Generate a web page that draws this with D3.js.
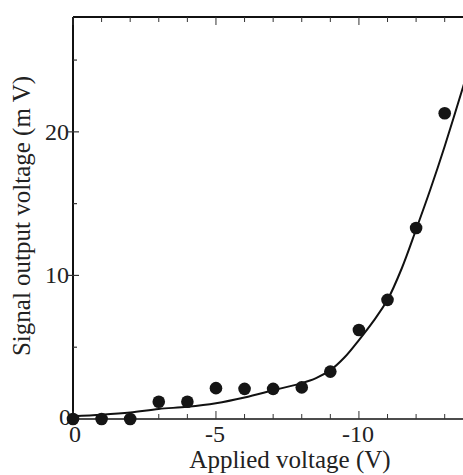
<!DOCTYPE html>
<html>
<head>
<meta charset="utf-8">
<script src="https://cdn.jsdelivr.net/npm/d3@7"></script>
<style>
  body { margin: 0; background: #fff; }
  text { font-family: "Liberation Serif", "DejaVu Serif", serif; fill: #222; }
</style>
</head>
<body>
<div id="chart"></div>
<script>
// measured points
var voltage = [0, -1, -2, -3, -4, -5, -6, -7, -8, -9, -10, -11, -12, -13];
var signal  = [0, 0, 0, 1.2, 1.2, 2.15, 2.1, 2.1, 2.2, 3.3, 6.2, 8.3, 13.3, 21.3];

// fitted curve
var fitX = [0, -1, -2, -3, -4, -5, -6, -7, -8, -8.5, -9, -9.5, -10, -10.5, -11, -11.5, -12, -12.5, -13, -13.7];
var fitY = [0.2, 0.3, 0.45, 0.7, 0.85, 1.1, 1.5, 2.0, 2.5, 2.85, 3.4, 4.3, 5.5, 6.8, 8.3, 10.5, 13.2, 16.0, 19.0, 23.5];

var xMajor = [0, -5, -10];
var yMajor = [0, 10, 20];

var W = 463, H = 475;
var margin = {top: 17, left: 73};

var svg = d3.select("#chart").append("svg")
    .attr("width", W)
    .attr("height", H);

var x = d3.scaleLinear().domain([0, -13.64]).range([margin.left, W]);
var y = d3.scaleLinear().domain([0, 28]).range([419, margin.top]);

var g = svg.append("g");

// frame lines
g.append("line").attr("x1", x(0)).attr("x2", W + 5).attr("y1", y(0)).attr("y2", y(0))
  .attr("stroke", "#111").attr("stroke-width", 1.6);
g.append("line").attr("x1", x(0)).attr("x2", W + 5).attr("y1", y(28)).attr("y2", y(28))
  .attr("stroke", "#111").attr("stroke-width", 2);
g.append("line").attr("x1", x(0)).attr("x2", x(0)).attr("y1", y(28)).attr("y2", y(0) + 1)
  .attr("stroke", "#111").attr("stroke-width", 2);

// x ticks, bottom and top, pointing inward
var xt = d3.range(0, -14, -1);
g.selectAll(".xtb").data(xt).enter().append("line")
  .attr("x1", function(d) { return x(d); }).attr("x2", function(d) { return x(d); })
  .attr("y1", y(0))
  .attr("y2", function(d) { return y(0) - (d % 5 === 0 ? 8 : 5); })
  .attr("stroke", "#333").attr("stroke-width", 1);
g.selectAll(".xtt").data(xt).enter().append("line")
  .attr("x1", function(d) { return x(d); }).attr("x2", function(d) { return x(d); })
  .attr("y1", y(28))
  .attr("y2", function(d) { return y(28) + (d % 5 === 0 ? 8 : 5); })
  .attr("stroke", "#333").attr("stroke-width", 1);

// y ticks
var yt = [5, 10, 15, 20, 25];
g.selectAll(".yt").data(yt).enter().append("line")
  .attr("x1", function(d) { return d % 10 === 0 ? x(0) - 5 : x(0); })
  .attr("x2", function(d) { return d % 10 === 0 ? x(0) + 6 : x(0) + 4; })
  .attr("y1", function(d) { return y(d); }).attr("y2", function(d) { return y(d); })
  .attr("stroke", "#333").attr("stroke-width", 1.2);

// tick labels
g.selectAll(".xl").data(xMajor).enter().append("text")
  .attr("x", function(d) { return x(d) + (d === 0 ? 2 : -1); })
  .attr("y", 442)
  .attr("text-anchor", "middle")
  .style("font-size", "24px")
  .text(function(d) { return d; });

g.selectAll(".yl").data(yMajor).enter().append("text")
  .attr("x", function(d) { return d === 0 ? 71 : 69; })
  .attr("y", function(d) { return d === 0 ? 425 : y(d) + 8; })
  .attr("text-anchor", "end")
  .style("font-size", "24px")
  .text(function(d) { return d; });

// axis titles
svg.append("text")
  .attr("x", 290).attr("y", 468)
  .attr("text-anchor", "middle")
  .style("font-size", "25px")
  .text("Applied voltage (V)");

svg.append("text")
  .attr("transform", "translate(30,216) rotate(-90)")
  .attr("text-anchor", "middle")
  .style("font-size", "25px")
  .text("Signal output voltage (m V)");

// fitted line
var fit = fitX.map(function(v, i) { return [v, fitY[i]]; });
var line = d3.line()
  .x(function(d) { return x(d[0]); })
  .y(function(d) { return y(d[1]); })
  .curve(d3.curveCatmullRom);
g.append("path").datum(fit)
  .attr("d", line)
  .attr("fill", "none")
  .attr("stroke", "#111")
  .attr("stroke-width", 2);

// points
g.selectAll(".pt").data(voltage).enter().append("circle")
  .attr("cx", function(d) { return x(d); })
  .attr("cy", function(d, i) { return y(signal[i]); })
  .attr("r", 6.3)
  .attr("fill", "#151515");
</script>
</body>
</html>
